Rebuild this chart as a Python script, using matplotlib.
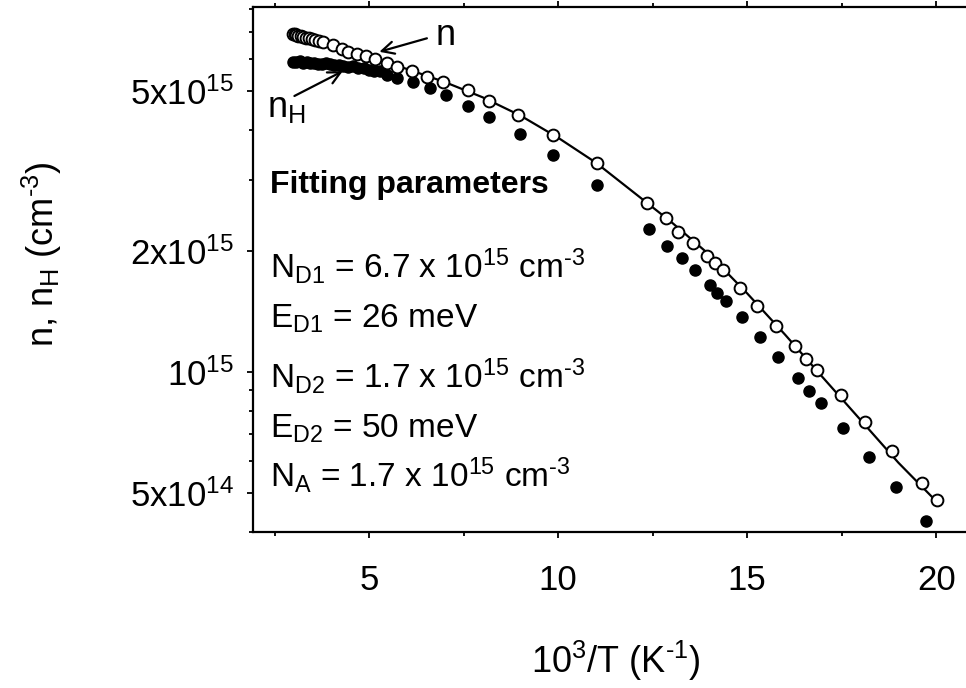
import matplotlib
matplotlib.use("Agg")
import matplotlib.pyplot as plt
from matplotlib.ticker import LogLocator, NullFormatter, FixedLocator, FixedFormatter

plt.rcParams['font.family'] = ['Liberation Sans', 'DejaVu Sans']
plt.rcParams['mathtext.fontset'] = 'custom'
plt.rcParams['mathtext.rm'] = 'Liberation Sans'
plt.rcParams['mathtext.it'] = 'Liberation Sans:italic'
plt.rcParams['mathtext.bf'] = 'Liberation Sans:bold'

# n (open circles), x = 10^3/T (1/K), y in cm^-3
n_x = [2.99, 3.03, 3.08, 3.13, 3.19, 3.25, 3.32, 3.40, 3.48, 3.57, 3.67, 3.78,
       4.05, 4.29, 4.44, 4.68, 4.92, 5.16, 5.48, 5.74, 6.14, 6.53, 6.96, 7.62,
       8.17, 8.94, 9.87, 11.03, 12.35, 12.86, 13.17, 13.57, 13.94, 14.15, 14.37,
       14.81, 15.26, 15.77, 16.27, 16.56, 16.85, 17.49, 18.12, 18.84, 19.63, 20.03]
n_y = [6.95e15, 6.93e15, 6.90e15, 6.88e15, 6.85e15, 6.83e15, 6.80e15, 6.77e15,
       6.74e15, 6.71e15, 6.67e15, 6.63e15,
       6.52e15, 6.37e15, 6.26e15, 6.18e15, 6.11e15, 6.01e15, 5.88e15, 5.74e15,
       5.61e15, 5.42e15, 5.27e15, 5.03e15, 4.73e15, 4.36e15, 3.89e15, 3.31e15,
       2.63e15, 2.42e15, 2.23e15, 2.10e15, 1.94e15, 1.87e15, 1.79e15, 1.62e15,
       1.46e15, 1.30e15, 1.16e15, 1.08e15, 1.01e15, 8.77e14, 7.52e14, 6.37e14,
       5.31e14, 4.81e14]

# n_H (filled circles)
nh_x = [2.99, 3.08, 3.17, 3.26, 3.35, 3.45, 3.55, 3.65, 3.75, 3.86, 3.97, 4.08,
        4.20, 4.32, 4.45, 4.58, 4.72, 4.86, 5.00, 5.14, 5.29,
        5.48, 5.74, 6.16, 6.61, 7.04, 7.62, 8.17, 8.99, 9.87, 11.03, 12.41,
        12.88, 13.28, 13.62, 14.02, 14.21, 14.44, 14.87, 15.34, 15.82, 16.35,
        16.64, 16.96, 17.54, 18.23, 18.94, 19.74]
nh_y = [5.92e15, 5.90e15, 5.93e15, 5.88e15, 5.91e15, 5.87e15, 5.89e15, 5.86e15,
        5.84e15, 5.87e15, 5.83e15, 5.80e15, 5.82e15, 5.78e15, 5.75e15, 5.77e15,
        5.72e15, 5.70e15, 5.66e15, 5.62e15, 5.60e15,
        5.49e15, 5.39e15, 5.27e15, 5.09e15, 4.89e15, 4.59e15, 4.31e15, 3.91e15,
        3.47e15, 2.92e15, 2.27e15, 2.06e15, 1.92e15, 1.79e15, 1.65e15, 1.57e15,
        1.50e15, 1.37e15, 1.22e15, 1.09e15, 9.68e14, 8.98e14, 8.38e14, 7.26e14,
        6.16e14, 5.18e14, 4.26e14]

# fit curve
fit_x = [3.0, 4.0, 5.0, 6.0, 7.0, 8.0, 9.0, 10.0, 11.0, 12.0, 13.0, 14.0,
         15.0, 16.0, 17.0, 18.0, 19.0, 20.05]
fit_y = [6.90e15, 6.50e15, 6.08e15, 5.68e15, 5.27e15, 4.83e15, 4.35e15,
         3.83e15, 3.32e15, 2.80e15, 2.36e15, 1.96e15, 1.57e15, 1.24e15,
         0.97e15, 7.6e14, 5.95e14, 4.72e14]

ytick_vals = [5e14, 1e15, 2e15, 5e15]
ytick_text = ['5x$10^{14}$', '$10^{15}$', '2x$10^{15}$', '5x$10^{15}$']
xtick_vals = [5, 10, 15, 20]

HY = '\u2010'  # short hyphen used in the exponents
params = ['$\\mathrm{N_{D1}}$ = 6.7 x $10^{15}$ $\\mathrm{cm^{' + HY + '3}}$',
          '$\\mathrm{E_{D1}}$ = 26 meV',
          '$\\mathrm{N_{D2}}$ = 1.7 x $10^{15}$ $\\mathrm{cm^{' + HY + '3}}$',
          '$\\mathrm{E_{D2}}$ = 50 meV',
          '$\\mathrm{N_A}$ = 1.7 x $10^{15}$ $\\mathrm{cm^{' + HY + '3}}$']

fig = plt.figure(figsize=(9.66, 6.88), dpi=100)
ax = fig.add_axes([0.2619, 0.2267, 0.766, 0.7631])

ax.plot(fit_x, fit_y, color='black', lw=1.6, zorder=2)
ax.plot(nh_x, nh_y, 'o', ms=8, color='black', zorder=3)
ax.plot(n_x, n_y, 'o', ms=8.5, mfc='white', mec='black', mew=1.4, zorder=4)

ax.set_yscale('log')
ax.set_xlim(1.93, 21.5)
ax.set_ylim(4.0e14, 8.1e15)

ax.yaxis.set_major_locator(FixedLocator(ytick_vals))
ax.yaxis.set_major_formatter(FixedFormatter(ytick_text))
ax.yaxis.set_minor_locator(LogLocator(base=10, subs=range(2, 10)))
ax.yaxis.set_minor_formatter(NullFormatter())
ax.xaxis.set_major_locator(FixedLocator(xtick_vals))
ax.xaxis.set_minor_locator(FixedLocator([2.5, 7.5, 12.5, 17.5]))

ax.tick_params(which='both', direction='out', width=1.3, top=True,
               labelsize=25)
ax.tick_params(which='major', length=4)
ax.tick_params(which='minor', length=3)
ax.tick_params(axis='x', pad=19)
ax.tick_params(axis='y', pad=10)
for s in ax.spines.values():
    s.set_linewidth(1.6)

ax.set_xlabel('$10^{3}$/T ($\\mathrm{K^{' + HY + '1}}$)', fontsize=26)
ax.xaxis.label.set_va('center')
ax.xaxis.set_label_coords(0.49, -0.245)
ax.set_ylabel('n, $\\mathrm{n_H}$ ($\\mathrm{cm^{' + HY + '3}}$)', fontsize=26)
ax.yaxis.label.set_va('center')
ax.yaxis.set_label_coords(-0.285, 0.53)

# arrows and labels
ax.annotate('', xy=(5.2, 6.24e15), xytext=(6.6, 6.8e15),
            arrowprops=dict(arrowstyle='->', lw=1.6, color='black',
                            mutation_scale=22))
ax.text(6.75, 6.9e15, 'n', fontsize=26, ha='left', va='center')
ax.annotate('', xy=(4.37, 5.65e15), xytext=(2.96, 4.83e15),
            arrowprops=dict(arrowstyle='->', lw=1.6, color='black',
                            mutation_scale=22))
ax.text(2.3, 4.31e15, '$\\mathrm{n_H}$', fontsize=26, ha='left', va='baseline')

ax.text(0.023, (532 - 193) / 525, 'Fitting parameters', transform=ax.transAxes,
        fontsize=23, fontweight='bold', ha='left', va='baseline')
baselines = [278, 328, 388, 438, 487]
for txt, b in zip(params, baselines):
    ax.text(0.023, (532 - b) / 525, txt, transform=ax.transAxes,
            fontsize=24, ha='left', va='baseline')

fig.savefig('out.png', dpi=100)
